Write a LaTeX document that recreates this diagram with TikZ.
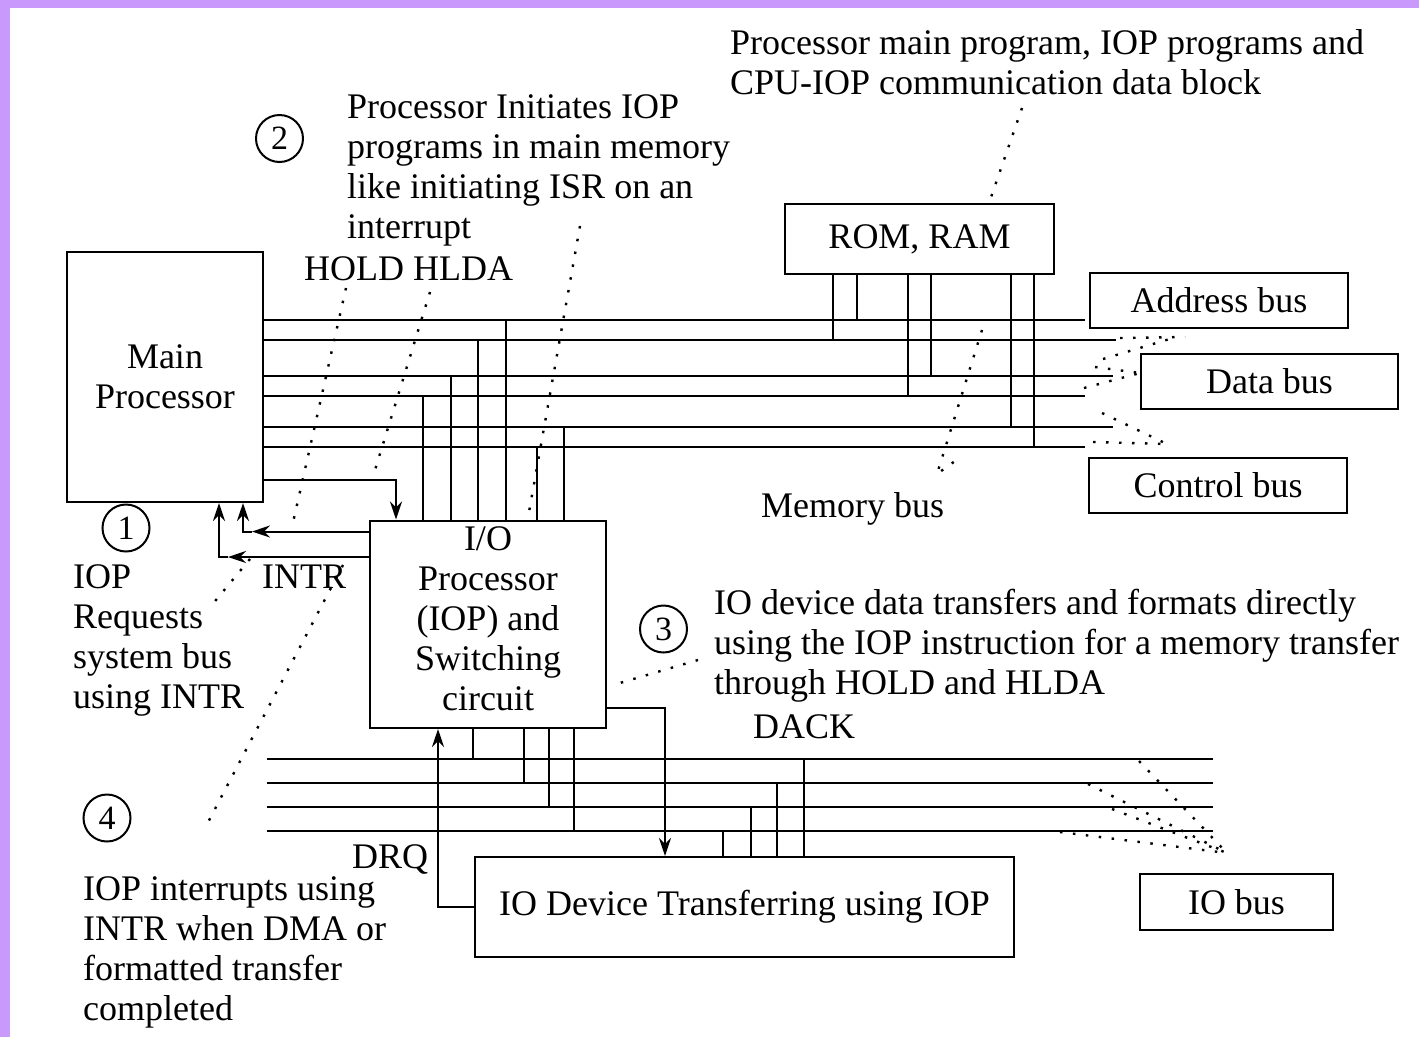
\documentclass[tikz,border=0pt]{standalone}
\usepackage{fontspec}
\setmainfont{Liberation Serif}
\usetikzlibrary{arrows.meta,calc}
\definecolor{framelilac}{RGB}{201,153,252}
\begin{document}
\begin{tikzpicture}[x=1pt,y=-1pt,
  lbl/.style={font=\fontsize{36}{40}\selectfont},
  box/.style={draw,line width=2pt,inner sep=0pt,lbl},
  txt/.style={inner sep=0pt,anchor=base west,align=left,lbl},
  bus/.style={line width=2pt},
  arr/.style={line width=2pt,-{Stealth[length=18pt,width=12pt,inset=6pt]}},
  pointer/.style={line width=2.4pt,dash pattern=on 2.5pt off 10.5pt},
  num/.style={draw,circle,line width=2pt,minimum size=47pt,inner sep=0pt,font=\fontsize{34}{40}\selectfont}]

% page and lilac frame strips
\useasboundingbox (0,0) rectangle (1419,1037);
\fill[white] (0,0) rectangle (1419,1037);
\fill[framelilac] (0,0) rectangle (10,1037);
\fill[framelilac] (0,0) rectangle (1419,8);

% ---------- blocks ----------
\node[box,minimum width=196pt,minimum height=250pt,align=center] (mp) at (165,377) {Main\\Processor};
\node[box,minimum width=236pt,minimum height=207.5pt] (iop) at (488,624.25) {};
% multi-line labels are placed by the baseline of their last line
\node[lbl,inner sep=0pt,anchor=base,align=center] (iopl) at (488,710) {I/O\\Processor\\(IOP) and\\Switching\\circuit};
\node[box,minimum width=269pt,minimum height=70pt] (mem) at (919.5,239) {ROM, RAM};
\node[box,minimum width=258pt,minimum height=55pt] (addr) at (1219,300) {Address bus};
\node[box,minimum width=257pt,minimum height=55pt] (data) at (1269.5,381.5) {Data bus};
\node[box,minimum width=258pt,minimum height=55.5pt] (ctrl) at (1218,485.25) {Control bus};
\node[box,minimum width=539pt,minimum height=100pt] (dev) at (744.5,907) {IO Device Transferring using IOP};
\node[box,minimum width=193pt,minimum height=56pt] (iob) at (1236.5,902) {IO bus};

% ---------- annotations ----------
\node[txt] (tmem) at (730,94) {Processor main program, IOP programs and\\CPU-IOP communication data block};
\node[num] (n2) at (279.5,138.5) {2};
\node[txt] (tinit) at (347,238) {Processor Initiates IOP\\programs in main memory\\like initiating ISR on an\\interrupt};
\node[txt] (thold) at (304,280) {HOLD HLDA};
\node[num] (n1) at (126,528) {1};
\node[txt] (treq) at (73,708) {IOP\\Requests\\system bus\\using INTR};
\node[txt] (tintr) at (262,588) {INTR};
\node[txt] (tmb) at (761,517) {Memory bus};
\node[num] (n3) at (663.5,629) {3};
\node[txt] (tdev) at (714,694) {IO device data transfers and formats directly\\using the IOP instruction for a memory transfer\\through HOLD and HLDA};
\node[txt] (tdack) at (753,738) {DACK};
\node[num] (n4) at (107,818) {4};
\node[txt] (tdrq) at (352,868) {DRQ};
\node[txt] (tdone) at (83,1020) {IOP interrupts using\\INTR when DMA or\\formatted transfer\\completed};

% ---------- system bus (address, data, control) ----------
\draw[bus] (mp.east |- 0,320)   -- (1085,320);
\draw[bus] (mp.east |- 0,339.5) -- (1116,339.5);
\draw[bus] (mp.east |- 0,376)   -- (1113,376);
\draw[bus] (mp.east |- 0,396)   -- (1085,396);
\draw[bus] (mp.east |- 0,427)   -- (1113,427);
\draw[bus] (mp.east |- 0,447)   -- (1085,447);

% memory taps
\draw[bus] (833,339.5) -- (833,339.5 |- mem.south);
\draw[bus] (857,320)   -- (857,320 |- mem.south);
\draw[bus] (908,396)   -- (908,396 |- mem.south);
\draw[bus] (931,376)   -- (931,376 |- mem.south);
\draw[bus] (1011,427)  -- (1011,427 |- mem.south);
\draw[bus] (1034,447)  -- (1034,447 |- mem.south);

% IOP taps on the system bus
\draw[bus] (423,396)   -- (423,396 |- iop.north);
\draw[bus] (451,376)   -- (451,376 |- iop.north);
\draw[bus] (478,339.5) -- (478,339.5 |- iop.north);
\draw[bus] (506,320)   -- (506,320 |- iop.north);
\draw[bus] (537,447)   -- (537,447 |- iop.north);
\draw[bus] (564,427)   -- (564,427 |- iop.north);

% HOLD / HLDA handshake
\draw[arr] (mp.east |- 0,480) -| ($(iop.north west)+(27,0)$);
\draw[arr] (iop.west |- 0,531.5) -- (252,531.5);
\draw[arr] (252,531.5) -| (mp.south -| 243,0);
\draw[arr] (iop.west |- 0,557) -- (228,557);
\draw[arr] (228,557) -| (mp.south -| 219,0);

% ---------- IO bus ----------
\foreach \y in {758.5,782.5,806.5,830.5}
  \draw[bus] (267,\y) -- (1213,\y);
\draw[bus] (473,758.5) -- (473,758.5 |- iop.south);
\draw[bus] (524,782.5) -- (524,782.5 |- iop.south);
\draw[bus] (549,806.5) -- (549,806.5 |- iop.south);
\draw[bus] (574,830.5) -- (574,830.5 |- iop.south);
\draw[bus] (723,830.5) -- (723,830.5 |- dev.north);
\draw[bus] (751,806.5) -- (751,806.5 |- dev.north);
\draw[bus] (777,782.5) -- (777,782.5 |- dev.north);
\draw[bus] (804,758.5) -- (804,758.5 |- dev.north);

% DRQ and DACK
\draw[arr] (dev.west |- 0,907) -| ($(iop.south west)+(69,0)$);
\draw[arr] (iop.east |- 0,708) -| ($(dev.north west)+(191,0)$);

% ---------- dotted pointers ----------
\draw[pointer] (1022,108) -- (mem.north -| 989,0);
\draw[pointer] (580,226) -- (529,512);
\draw[pointer] (346,288) -- (292,527);
\draw[pointer] (430,292) -- (375,470);
\draw[pointer] (343,565) -- (205,828);
\draw[pointer] (250,559) -- (211,606);
\draw[pointer] (698,660) -- (613,685);
\draw[pointer] (982,330) -- (937,474) -- (962,456);

% bus groupings at the right
\draw[pointer] (1120,338) -- (1185,337);
\draw[pointer] (1103,359) -- (1173,338);
\draw[pointer] (1095,367) -- (data.west |- 0,373);
\draw[pointer] (1084,388) -- (data.west |- 0,373);
\draw[pointer] (1102,413) -- (1167,444);
\draw[pointer] (1093,442) -- (1167,444);

\coordinate (iobtip) at (1227,853);
\draw[pointer] (1139,761) -- (iobtip);
\draw[pointer] (1088,784) -- (iobtip);
\draw[pointer] (1112,809) -- (iobtip);
\draw[pointer] (1060,832) -- (iobtip);
\end{tikzpicture}
\end{document}
